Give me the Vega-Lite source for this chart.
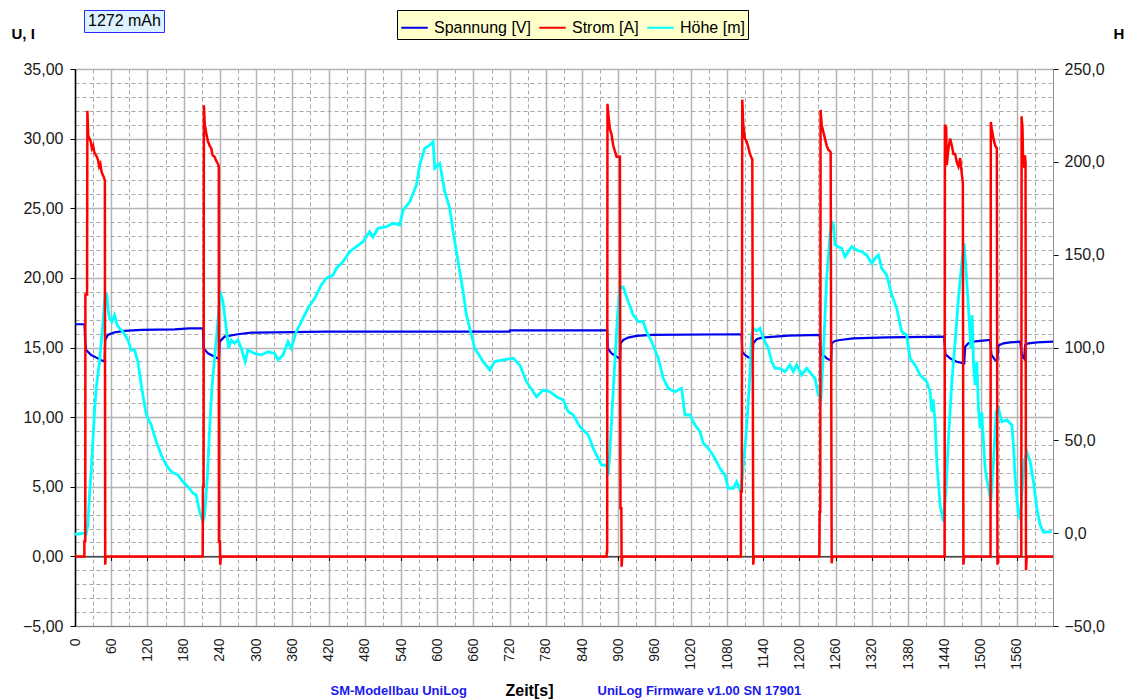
{
  "$schema": "https://vega.github.io/schema/vega-lite/v6.json",
  "width": 978,
  "height": 557,
  "autosize": {"type": "none"},
  "padding": {"left": 75, "top": 69, "right": 72, "bottom": 73},
  "background": "#ffffff",
  "config": {
    "view": {"fill": "#FFFFCC", "stroke": "#a0a0a0", "strokeWidth": 1},
    "font": "Liberation Sans",
    "axis": {"labelFont": "Liberation Sans", "titleFont": "Liberation Sans"},
    "legend": {"labelFont": "Liberation Sans", "titleFont": "Liberation Sans"}
  },
  "datasets": {
    "spannung": [
      {"t":0,"v":16.67},{"t":15.7,"v":16.67},{"t":17,"v":15.4},{"t":18.5,"v":14.82},{"t":26.8,"v":14.46},{"t":37.8,"v":14.22},{"t":46.1,"v":14.03},{"t":49,"v":14.0},{"t":50,"v":15.54},{"t":54.4,"v":15.9},{"t":65.5,"v":16.09},{"t":82,"v":16.19},{"t":109.7,"v":16.26},{"t":164.9,"v":16.3},{"t":189.8,"v":16.38},{"t":211.9,"v":16.38},{"t":213,"v":14.94},{"t":220.2,"v":14.58},{"t":231.2,"v":14.34},{"t":236.7,"v":14.22},{"t":238.4,"v":14.2},{"t":239.5,"v":15.42},{"t":247.8,"v":15.78},{"t":269.9,"v":15.95},{"t":292,"v":16.07},{"t":330.7,"v":16.09},{"t":413.6,"v":16.14},{"t":720,"v":16.14},{"t":720.5,"v":16.23},{"t":881.5,"v":16.23},{"t":882.5,"v":14.94},{"t":888.8,"v":14.58},{"t":897.1,"v":14.34},{"t":901.4,"v":14.22},{"t":903,"v":14.2},{"t":903.7,"v":15.3},{"t":908.1,"v":15.54},{"t":916.4,"v":15.71},{"t":930.2,"v":15.83},{"t":955.1,"v":15.9},{"t":1104.2,"v":15.95},{"t":1105.3,"v":14.7},{"t":1109.7,"v":14.46},{"t":1118,"v":14.22},{"t":1122.5,"v":14.15},{"t":1123.5,"v":15.3},{"t":1129.1,"v":15.59},{"t":1137.4,"v":15.71},{"t":1154,"v":15.76},{"t":1181.5,"v":15.85},{"t":1234.1,"v":15.9},{"t":1235,"v":14.5},{"t":1239.5,"v":14.46},{"t":1245.1,"v":14.22},{"t":1250.6,"v":14.1},{"t":1252.5,"v":14.05},{"t":1253.4,"v":15.3},{"t":1258.9,"v":15.47},{"t":1267.2,"v":15.54},{"t":1289.3,"v":15.66},{"t":1344.6,"v":15.73},{"t":1439.6,"v":15.78},{"t":1441.8,"v":14.51},{"t":1449.6,"v":14.22},{"t":1460.7,"v":13.98},{"t":1470.7,"v":13.87},{"t":1473,"v":13.85},{"t":1474.5,"v":15.06},{"t":1479.9,"v":15.3},{"t":1488.2,"v":15.42},{"t":1499.3,"v":15.47},{"t":1515.9,"v":15.54},{"t":1518.1,"v":14.46},{"t":1524.2,"v":14.1},{"t":1527.5,"v":14.0},{"t":1529.6,"v":15.14},{"t":1537.9,"v":15.3},{"t":1549,"v":15.37},{"t":1565.6,"v":15.42},{"t":1568.4,"v":14.46},{"t":1572.2,"v":14.22},{"t":1573.9,"v":15.18},{"t":1579.4,"v":15.3},{"t":1593.3,"v":15.37},{"t":1620,"v":15.42}
    ],
    "strom": [
      {"t":0,"v":0},{"t":15.5,"v":0},{"t":15.6,"v":1.1},{"t":17,"v":1.1},{"t":17.2,"v":18.8},{"t":20,"v":18.8},{"t":20.5,"v":32.0},{"t":22,"v":30.2},{"t":24,"v":30.0},{"t":26,"v":29.8},{"t":28,"v":29.3},{"t":30,"v":29.5},{"t":32,"v":29.0},{"t":35,"v":28.8},{"t":38,"v":28.5},{"t":40,"v":28.0},{"t":42,"v":28.2},{"t":44,"v":27.6},{"t":46,"v":27.4},{"t":48,"v":27.2},{"t":49.5,"v":27.0},{"t":50,"v":-0.6},{"t":51,"v":0},
      {"t":211.5,"v":0},{"t":211.9,"v":5.0},{"t":213,"v":5.0},{"t":213.5,"v":32.4},{"t":215,"v":31.0},{"t":217.4,"v":30.4},{"t":220.2,"v":29.8},{"t":223,"v":29.5},{"t":225.7,"v":29.3},{"t":228,"v":28.8},{"t":231.2,"v":28.7},{"t":234,"v":28.4},{"t":236.7,"v":28.2},{"t":238.2,"v":28.0},{"t":238.4,"v":1.06},{"t":240,"v":1.06},{"t":240.6,"v":-0.6},{"t":241.5,"v":0},
      {"t":880.5,"v":0},{"t":881,"v":0.34},{"t":881.5,"v":0.34},{"t":882,"v":32.5},{"t":884,"v":31.5},{"t":886,"v":30.7},{"t":888.8,"v":30.3},{"t":891.5,"v":29.5},{"t":894.3,"v":29.1},{"t":897.1,"v":28.7},{"t":902.6,"v":28.7},{"t":903.5,"v":3.45},{"t":905,"v":3.45},{"t":905.4,"v":-0.74},{"t":906.5,"v":0},
      {"t":1103,"v":0},{"t":1103.1,"v":4.65},{"t":1104.5,"v":4.65},{"t":1105.3,"v":32.8},{"t":1106.9,"v":31.0},{"t":1109.7,"v":30.0},{"t":1112.5,"v":29.8},{"t":1115.2,"v":29.4},{"t":1118,"v":28.9},{"t":1120.8,"v":28.6},{"t":1121.9,"v":28.5},{"t":1123.5,"v":-0.6},{"t":1124.5,"v":0},
      {"t":1233,"v":0},{"t":1233.5,"v":3.2},{"t":1234.5,"v":3.2},{"t":1235,"v":32.06},{"t":1236.8,"v":31.0},{"t":1239.5,"v":30.5},{"t":1242.3,"v":30.0},{"t":1245.1,"v":29.5},{"t":1247.8,"v":29.2},{"t":1250.6,"v":29.1},{"t":1251.7,"v":29.0},{"t":1253.4,"v":-0.5},{"t":1254.5,"v":0},
      {"t":1440.5,"v":0},{"t":1441,"v":31.0},{"t":1443,"v":30.8},{"t":1444.1,"v":28.1},{"t":1446.8,"v":29.3},{"t":1449.6,"v":30.0},{"t":1452.4,"v":29.5},{"t":1455.1,"v":28.9},{"t":1457.9,"v":28.9},{"t":1460.7,"v":28.3},{"t":1463.4,"v":28.0},{"t":1466.2,"v":28.6},{"t":1469.1,"v":27.4},{"t":1470.7,"v":26.8},{"t":1471.6,"v":-0.6},{"t":1472.7,"v":0},
      {"t":1516.5,"v":0},{"t":1517,"v":31.2},{"t":1518.6,"v":30.7},{"t":1521.4,"v":30.0},{"t":1524.2,"v":29.5},{"t":1527,"v":29.3},{"t":1528,"v":-0.6},{"t":1529.6,"v":0},
      {"t":1567.5,"v":0},{"t":1568,"v":31.6},{"t":1569.5,"v":30.7},{"t":1570.5,"v":28.3},{"t":1571.5,"v":28.8},{"t":1572.5,"v":27.9},{"t":1573.5,"v":28.8},{"t":1574.5,"v":28.3},{"t":1575.3,"v":-1.0},{"t":1576.5,"v":0},{"t":1620,"v":0}
    ],
    "hoehe": [
      {"t":0,"v":-0.6},{"t":15.7,"v":0},{"t":18.5,"v":-0.5},{"t":21.3,"v":4.4},{"t":24,"v":20.6},{"t":26.8,"v":33},{"t":29.6,"v":49.3},{"t":32.3,"v":65.4},{"t":35.1,"v":78},{"t":40.6,"v":92.4},{"t":44.5,"v":106.7},{"t":47.8,"v":119.3},{"t":50,"v":129.2},{"t":52.8,"v":128.3},{"t":54.4,"v":121.1},{"t":57.2,"v":115.7},{"t":61.1,"v":113.9},{"t":65.5,"v":117.5},{"t":69.9,"v":112.1},{"t":73.8,"v":110.3},{"t":79.3,"v":108.5},{"t":87.7,"v":104},{"t":93.2,"v":98.6},{"t":98.7,"v":98.6},{"t":104.2,"v":92.4},{"t":109.7,"v":79.8},{"t":118,"v":63.7},{"t":126.3,"v":58.3},{"t":134.6,"v":49.3},{"t":142.9,"v":42.1},{"t":151.1,"v":36.7},{"t":159.4,"v":33.1},{"t":170.5,"v":31.3},{"t":178.8,"v":27.7},{"t":187.1,"v":25},{"t":195.4,"v":21.5},{"t":200.9,"v":20.6},{"t":206.4,"v":11.6},{"t":211.9,"v":6.2},{"t":214.7,"v":9.8},{"t":219.1,"v":29.6},{"t":223,"v":56.5},{"t":226.8,"v":78},{"t":231.2,"v":94.2},{"t":235.7,"v":110.3},{"t":237.9,"v":119.3},{"t":240.6,"v":130},{"t":245,"v":124.7},{"t":250.6,"v":110.3},{"t":254.4,"v":99.6},{"t":258.8,"v":104},{"t":264.4,"v":102.3},{"t":269.9,"v":104},{"t":275.4,"v":99.6},{"t":282,"v":92.4},{"t":286.4,"v":98.6},{"t":297.5,"v":96.8},{"t":308.5,"v":95.9},{"t":319.6,"v":97.7},{"t":330.7,"v":96.8},{"t":336.2,"v":93.3},{"t":344.5,"v":95.9},{"t":352.8,"v":103.1},{"t":358.3,"v":99.6},{"t":366.6,"v":108.5},{"t":374.9,"v":113.9},{"t":385.9,"v":121.1},{"t":396.9,"v":126.5},{"t":408,"v":133.7},{"t":416.3,"v":137.3},{"t":427.4,"v":139},{"t":432.9,"v":142.6},{"t":443.9,"v":146.2},{"t":455,"v":151.6},{"t":466,"v":154.3},{"t":477.1,"v":157},{"t":488.1,"v":162.4},{"t":493.7,"v":159.5},{"t":502,"v":164.2},{"t":515.8,"v":165.1},{"t":526.8,"v":166.9},{"t":537.9,"v":166},{"t":543.4,"v":174},{"t":554.5,"v":178.5},{"t":565.5,"v":187.5},{"t":571,"v":198.3},{"t":579.3,"v":207.3},{"t":587.6,"v":209},{"t":593.2,"v":210.8},{"t":596,"v":196.5},{"t":604.2,"v":199.2},{"t":612.5,"v":183.9},{"t":620.8,"v":175},{"t":626.3,"v":162.4},{"t":634.6,"v":146.2},{"t":642.9,"v":130},{"t":648.4,"v":117.5},{"t":656.7,"v":106.7},{"t":662.2,"v":99.6},{"t":676,"v":92.4},{"t":687.1,"v":87.9},{"t":695.4,"v":92.4},{"t":709.2,"v":93.3},{"t":725.8,"v":94.2},{"t":736.8,"v":90.6},{"t":747.9,"v":81.6},{"t":764.5,"v":73.5},{"t":775.5,"v":77.1},{"t":786.6,"v":76.2},{"t":797.6,"v":73.5},{"t":808.7,"v":71.7},{"t":817,"v":65.4},{"t":825.3,"v":63.7},{"t":836.3,"v":57.4},{"t":850.1,"v":52.9},{"t":858.4,"v":45.7},{"t":866.7,"v":40.3},{"t":872.2,"v":36.7},{"t":880.5,"v":36.7},{"t":883.2,"v":31.3},{"t":886,"v":43.9},{"t":889.9,"v":67.3},{"t":894.3,"v":92.4},{"t":898.7,"v":117.5},{"t":902.6,"v":131.9},{"t":908.1,"v":132.7},{"t":916.4,"v":124.7},{"t":924.7,"v":117.5},{"t":933,"v":113.9},{"t":941.2,"v":113.9},{"t":946.8,"v":108.5},{"t":955.1,"v":103.1},{"t":966.1,"v":94.2},{"t":974.4,"v":83.4},{"t":982.7,"v":78},{"t":993.7,"v":76.2},{"t":1004.8,"v":78},{"t":1010.3,"v":63.7},{"t":1018.6,"v":63.7},{"t":1026.9,"v":58.3},{"t":1035.2,"v":54.7},{"t":1040.7,"v":48.4},{"t":1049,"v":45.7},{"t":1054.5,"v":43},{"t":1060,"v":40.3},{"t":1068.3,"v":34.9},{"t":1076.6,"v":31.3},{"t":1082.1,"v":24.2},{"t":1090.4,"v":24.2},{"t":1095.9,"v":27.7},{"t":1101.5,"v":23.3},{"t":1105.3,"v":29.6},{"t":1109.7,"v":45.7},{"t":1114.2,"v":65.4},{"t":1118,"v":85.2},{"t":1120.8,"v":106.7},{"t":1123.5,"v":110.3},{"t":1129.1,"v":109},{"t":1134.6,"v":110.3},{"t":1140.1,"v":104.9},{"t":1148.4,"v":99.6},{"t":1153.9,"v":92.4},{"t":1159.5,"v":88.8},{"t":1167.7,"v":88.8},{"t":1176,"v":87},{"t":1184.3,"v":90.6},{"t":1189.8,"v":87},{"t":1195.4,"v":90.6},{"t":1203.7,"v":85.2},{"t":1212,"v":88.8},{"t":1225.8,"v":83.4},{"t":1231.3,"v":74.4},{"t":1235.7,"v":72.6},{"t":1240,"v":100},{"t":1245.1,"v":137.3},{"t":1250.6,"v":160.6},{"t":1253.4,"v":167.7},{"t":1256.2,"v":166},{"t":1258.9,"v":155.2},{"t":1264.5,"v":154.3},{"t":1270,"v":153.4},{"t":1275.5,"v":148.9},{"t":1281,"v":151.6},{"t":1286.6,"v":154.3},{"t":1294.9,"v":152.5},{"t":1303.1,"v":151.6},{"t":1311.4,"v":149.8},{"t":1319.7,"v":145.3},{"t":1325.2,"v":148},{"t":1330.8,"v":149.8},{"t":1336.3,"v":142.6},{"t":1344.6,"v":139},{"t":1352.9,"v":128.3},{"t":1361.2,"v":121.1},{"t":1369.4,"v":108.5},{"t":1377.7,"v":106.7},{"t":1383.2,"v":94.2},{"t":1391.5,"v":90.6},{"t":1399.8,"v":85.2},{"t":1410.9,"v":81.6},{"t":1416.4,"v":76.2},{"t":1419.2,"v":65.4},{"t":1421.5,"v":72},{"t":1424.7,"v":60},{"t":1427.5,"v":38.5},{"t":1433,"v":15.2},{"t":1438.5,"v":6.2},{"t":1442.9,"v":24.2},{"t":1446.8,"v":51.1},{"t":1452.4,"v":81.6},{"t":1457.9,"v":103.1},{"t":1463.4,"v":126.5},{"t":1469,"v":146.2},{"t":1472.8,"v":156.1},{"t":1476.1,"v":140.8},{"t":1480,"v":121.1},{"t":1483.9,"v":99.6},{"t":1486,"v":117.5},{"t":1488.2,"v":92.4},{"t":1491,"v":79.8},{"t":1493.8,"v":92.4},{"t":1496.5,"v":67.3},{"t":1499.3,"v":56.5},{"t":1502,"v":65},{"t":1504.8,"v":49.3},{"t":1507.6,"v":34.9},{"t":1513.1,"v":24.2},{"t":1517,"v":17},{"t":1521.4,"v":38.5},{"t":1525.8,"v":65.4},{"t":1529.6,"v":67.3},{"t":1535.2,"v":60},{"t":1543.5,"v":61},{"t":1551.8,"v":58.3},{"t":1554.5,"v":47.5},{"t":1557.3,"v":29.6},{"t":1562.8,"v":9.8},{"t":1565.6,"v":8},{"t":1568.4,"v":20.6},{"t":1572.2,"v":38.5},{"t":1576.6,"v":43.9},{"t":1582.2,"v":38.5},{"t":1587.7,"v":27.7},{"t":1593.2,"v":13.4},{"t":1598.7,"v":4.4},{"t":1604.3,"v":0.5},{"t":1618,"v":0.8}
    ],
    "mah": [{"label": "1272 mAh"}]
  },
  "layer": [
    {
      "data": {"name": "spannung"},
      "mark": {"type": "line", "strokeWidth": 2.2, "clip": true},
      "encoding": {
        "x": {"field": "t", "type": "quantitative",
          "scale": {"domain": [0, 1620], "nice": false, "zero": false},
          "axis": {"orient": "bottom", "values": [30,90,150,210,270,330,390,450,510,570,630,690,750,810,870,930,990,1050,1110,1170,1230,1290,1350,1410,1470,1530,1590],
            "grid": true, "gridColor": "#a8a8a8", "gridDash": [4, 3], "gridWidth": 1,
            "labels": false, "ticks": false, "domain": false,
            "title": "SM-Modellbau UniLog", "titleColor": "#1a1aee", "titleFontSize": 13, "titleFontWeight": "bold",
            "titleX": 255, "titleY": 68, "titleAlign": "left", "titleBaseline": "alphabetic", "titleAngle": 0}},
        "y": {"field": "v", "type": "quantitative",
          "scale": {"domain": [-5, 35], "nice": false, "zero": false},
          "axis": {"orient": "left", "values": [-5,0,5,10,15,20,25,30,35],
            "grid": true, "gridColor": "#b4b4b4", "gridWidth": 1.5,
            "labelExpr": "replace(format(datum.value, '.2f'), '.', ',')",
            "labelFontSize": 16, "labelColor": "#1a1a1a", "labelPadding": 7,
            "tickSize": 5, "tickColor": "#000000", "domainColor": "#000000", "domainWidth": 1.5,
            "title": "U, I", "titleAngle": 0, "titleX": -64, "titleY": -31, "titleAlign": "left",
            "titleBaseline": "alphabetic", "titleFontSize": 15, "titleFontWeight": "bold", "titleColor": "#000000"}},
        "color": {"datum": "Spannung [V]", "type": "nominal",
          "scale": {"domain": ["Spannung [V]", "Strom [A]", "Höhe [m]"], "range": ["#0000ee", "#ff0000", "#00ffff"]},
          "legend": {"orient": "none", "legendX": 322, "legendY": -59, "direction": "horizontal",
            "fillColor": "#FFFFCC", "strokeColor": "#000000", "padding": 3, "title": null,
            "symbolType": "stroke", "symbolSize": 700, "symbolStrokeWidth": 2,
            "labelFontSize": 16, "labelColor": "#000000", "labelOffset": 5, "columnPadding": 4}}
      }
    },
    {
      "data": {"name": "hoehe"},
      "mark": {"type": "line", "strokeWidth": 2.8, "clip": true},
      "encoding": {
        "x": {"field": "t", "type": "quantitative",
          "scale": {"domain": [0, 1620], "nice": false, "zero": false},
          "axis": {"orient": "bottom", "values": [0,60,120,180,240,300,360,420,480,540,600,660,720,780,840,900,960,1020,1080,1140,1200,1260,1320,1380,1440,1500,1560],
            "format": "d",
            "grid": true, "gridColor": "#b4b4b4", "gridWidth": 1.5,
            "labelAngle": 270, "labelFontSize": 14, "labelColor": "#1a1a1a", "labelPadding": 12,
            "ticks": false, "domain": true, "domainColor": "#808080",
            "title": "Zeit[s]", "titleFontSize": 16, "titleFontWeight": "bold", "titleColor": "#000000",
            "titleX": 454, "titleY": 69, "titleAlign": "center", "titleBaseline": "alphabetic", "titleAngle": 0}},
        "y": {"field": "v", "type": "quantitative",
          "scale": {"domain": [-50, 250], "nice": false, "zero": false},
          "axis": {"orient": "right", "values": [-50,0,50,100,150,200,250], "grid": false,
            "labelExpr": "replace(format(datum.value, '.1f'), '.', ',')",
            "labelFontSize": 16, "labelColor": "#1a1a1a", "labelPadding": 6,
            "tickSize": 5, "tickColor": "#000000", "domainColor": "#909090",
            "title": "H", "titleAngle": 0, "titleX": 60, "titleY": -31, "titleAlign": "left",
            "titleBaseline": "alphabetic", "titleFontSize": 15, "titleFontWeight": "bold", "titleColor": "#000000"}},
        "color": {"datum": "Höhe [m]", "type": "nominal",
          "scale": {"domain": ["Spannung [V]", "Strom [A]", "Höhe [m]"], "range": ["#0000ee", "#ff0000", "#00ffff"]}}
      }
    },
    {
      "data": {"name": "strom"},
      "mark": {"type": "line", "strokeWidth": 2.5, "clip": true},
      "encoding": {
        "x": {"field": "t", "type": "quantitative",
          "scale": {"domain": [0, 1620], "nice": false, "zero": false},
          "axis": {"orient": "bottom", "offset": -69.6,
            "values": [0,60,120,180,240,300,360,420,480,540,600,660,720,780,840,900,960,1020,1080,1140,1200,1260,1320,1380,1440,1500,1560],
            "grid": false, "labels": false, "ticks": true, "tickSize": 4, "tickColor": "#000000",
            "domain": true, "domainColor": "#000000", "domainWidth": 1,
            "title": "UniLog Firmware v1.00 SN 17901", "titleColor": "#1a1aee", "titleFontSize": 13, "titleFontWeight": "bold",
            "titleX": 522, "titleY": 137.6, "titleAlign": "left", "titleBaseline": "alphabetic", "titleAngle": 0}},
        "y": {"field": "v", "type": "quantitative",
          "scale": {"domain": [-5, 35], "nice": false, "zero": false},
          "axis": {"orient": "left", "values": [-4,-3,-2,-1,1,2,3,4,6,7,8,9,11,12,13,14,16,17,18,19,21,22,23,24,26,27,28,29,31,32,33,34],
            "grid": true, "gridColor": "#a8a8a8", "gridDash": [4, 3], "gridWidth": 1,
            "labels": false, "ticks": false, "domain": false, "title": null}},
        "color": {"datum": "Strom [A]", "type": "nominal",
          "scale": {"domain": ["Spannung [V]", "Strom [A]", "Höhe [m]"], "range": ["#0000ee", "#ff0000", "#00ffff"]}}
      }
    },
    {
      "data": {"name": "mah"},
      "mark": {"type": "point", "opacity": 0, "size": 1},
      "encoding": {
        "shape": {"field": "label", "type": "nominal",
          "legend": {"orient": "none", "legendX": 9, "legendY": -59, "title": null,
            "fillColor": "#DDF2FF", "strokeColor": "#2a2aff", "padding": 3,
            "symbolSize": 1, "symbolOpacity": 0, "labelOffset": -15,
            "labelFontSize": 16, "labelColor": "#000000"}}
      }
    }
  ],
  "resolve": {"scale": {"y": "independent"}, "axis": {"x": "independent", "y": "independent"}}
}
